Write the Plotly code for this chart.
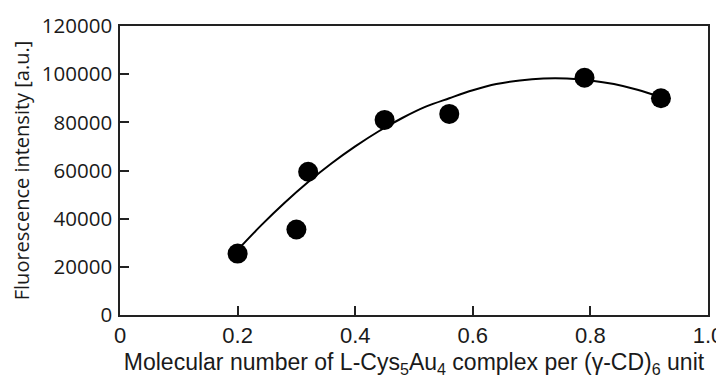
import plotly.graph_objects as go

# measured points
x_pts = [0.20, 0.30, 0.32, 0.45, 0.56, 0.79, 0.92]
y_pts = [25500, 35500, 59500, 81000, 83500, 98500, 90000]

# fitted curve
x_fit = [0.20, 0.24, 0.28, 0.32, 0.36, 0.40, 0.44, 0.48, 0.52, 0.56,
         0.60, 0.64, 0.68, 0.72, 0.76, 0.80, 0.84, 0.88, 0.92]
y_fit = [27000, 37200, 46600, 55200, 63000, 70000, 76300, 81800, 86500, 90000,
         93300, 95900, 97400, 98200, 98200, 97400, 95900, 93500, 90400]

x_tickvals = [0, 0.2, 0.4, 0.6, 0.8, 1.0]
x_ticktext = ["0", "0.2", "0.4", "0.6", "0.8", "1.0"]
y_tickvals = [0, 20000, 40000, 60000, 80000, 100000, 120000]
y_ticktext = ["0", "20000", "40000", "60000", "80000", "100000", "120000"]

X_FONT = "Liberation Sans, Arial, sans-serif"
Y_FONT = "Open Sans, sans-serif"
AX = "#222222"
TXT = "#1a1a1a"

fig = go.Figure()
fig.add_trace(go.Scatter(x=x_fit, y=y_fit, mode="lines", line=dict(color="black", width=2, shape="spline"),
                         showlegend=False, hoverinfo="skip"))
fig.add_trace(go.Scatter(x=x_pts, y=y_pts, mode="markers", marker=dict(color="black", size=20),
                         showlegend=False))

# the page body keeps its default 8px margin, so the figure is 8px smaller than the window
fig.update_layout(
    width=716, height=370,
    margin=dict(l=112, r=16, t=18, b=63),
    paper_bgcolor="white", plot_bgcolor="white",
    font=dict(family=X_FONT, size=20, color=TXT),
    xaxis=dict(range=[0, 1.0], tickvals=x_tickvals, ticktext=x_ticktext,
               tickfont=dict(family=X_FONT, size=22, color=TXT),
               ticks="inside", ticklen=9, tickwidth=1.5, tickcolor=AX,
               showline=True, linecolor=AX, linewidth=1.5, mirror=True,
               showgrid=False, zeroline=False, automargin=False,
               title=dict(text="Molecular number of L-Cys<sub>5</sub>Au<sub>4</sub> complex per (γ-CD)<sub>6</sub> unit",
                          font=dict(family=X_FONT, size=23, color=TXT), standoff=11)),
    yaxis=dict(range=[0, 120000], tickvals=y_tickvals, ticktext=y_ticktext,
               tickfont=dict(family=Y_FONT, size=20.5, color=TXT),
               ticks="inside", ticklen=9, tickwidth=1.5, tickcolor=AX,
               showline=True, linecolor=AX, linewidth=1.5, mirror=True,
               showgrid=False, zeroline=False, automargin=False, ticklabelstandoff=2,
               title=dict(text="Fluorescence intensity [a.u.]",
                          font=dict(family=Y_FONT, size=20, color=TXT), standoff=10)),
)

fig.write_html("out.html")
